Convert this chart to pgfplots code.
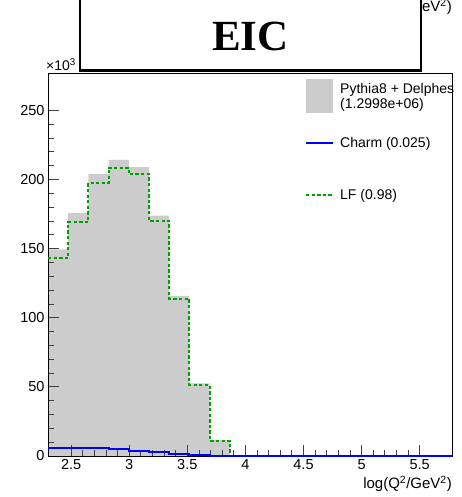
\documentclass[border=0pt]{standalone}
\usepackage{pgfplots}
\pgfplotsset{compat=1.18}
\usepackage{fontspec}
\setmainfont{Liberation Sans}
\newfontfamily\serifbf{Liberation Serif}
\definecolor{histgray}{RGB}{204,204,204}
\definecolor{lfgreen}{RGB}{0,160,0}
\begin{document}
\begin{tikzpicture}[x=1pt,y=1pt]
\begin{axis}[
 at={(48pt,41pt)}, anchor=south west,
 width=404pt, height=383pt, scale only axis,
 set layers, clip=false,
 xmin=2.30103, xmax=5.77815, ymin=0, ymax=277,
 xtick={2.5,3,3.5,4,4.5,5,5.5}, ytick={0,50,100,150,200,250},
 minor x tick num=4, minor y tick num=4,
 tick align=inside, tick pos=left,
 major tick length=11pt, minor tick length=5.5pt,
 axis line style={line width=0.9pt},
 every tick/.style={line width=0.8pt, black!75},
 /pgf/number format/assume math mode=true,
 ticklabel style={font=\fontsize{14.5}{14.5}\selectfont},
]
\addplot[fill=histgray, draw=none, const plot mark left, on layer=axis background] coordinates {
(2.30103,149.5) (2.47489,175.6) (2.64874,203.8) (2.82260,214.2) (2.99645,208.9)
(3.17031,173.9) (3.34416,115.8) (3.51802,52.5) (3.69188,11.5) (3.86573,0)
(4.03959,0) (5.77815,0)} \closedcycle;
\addplot[lfgreen, line width=2pt, dash pattern=on 3.3pt off 2.3pt, const plot mark left] coordinates {
(2.30103,143.0) (2.47489,169.0) (2.64874,197.3) (2.82260,208.6) (2.99645,203.8)
(3.17031,170.0) (3.34416,113.8) (3.51802,51.4) (3.69188,10.9) (3.86573,0)
(4.03959,0) (4.21344,0) (4.38730,0) (4.56115,0) (4.73501,0) (4.90886,0)
(5.08272,0) (5.25658,0) (5.43043,0) (5.60429,0) (5.77815,0)};
\addplot[blue, line width=2pt, const plot mark left] coordinates {
(2.30103,6.0) (2.47489,6.0) (2.64874,6.0) (2.82260,5.0) (2.99645,3.8)
(3.17031,2.7) (3.34416,1.4) (3.51802,0.6) (3.69188,0.2) (3.86573,0)
(4.03959,0) (4.21344,0) (4.38730,0) (4.56115,0) (4.73501,0) (4.90886,0)
(5.08272,0) (5.25658,0) (5.43043,0) (5.60429,0) (5.77815,0)};
\end{axis}
% right and top frame
\draw[line width=0.9pt] (48,424) -- (452,424) -- (452,41);
% axis title
\node[anchor=base east, font=\fontsize{15}{15}\selectfont, inner sep=0pt] at (452,8.7) {log(Q\textsuperscript{2}/GeV\textsuperscript{2})};
% multiplier
\node[anchor=base west, font=\fontsize{14}{14}\selectfont, inner sep=0pt] at (46,426) {×10\textsuperscript{3}};
% hidden histogram title
\node[anchor=base east, font=\fontsize{15}{15}\selectfont, inner sep=0pt] at (452,485.3) {log(Q\textsuperscript{2}/GeV\textsuperscript{2})};
% legend
\fill[histgray] (306,384) rectangle (333,418);
\node[anchor=base west, font=\fontsize{14}{14}\selectfont, inner sep=0pt] at (340,403.7) {Pythia8 + Delphes};
\node[anchor=base west, font=\fontsize{14}{14}\selectfont, inner sep=0pt] at (340,388) {(1.2998e+06)};
\draw[blue, line width=2pt] (306,353.7) -- (333,353.7);
\node[anchor=base west, font=\fontsize{14}{14}\selectfont, inner sep=0pt] at (340,349.3) {Charm (0.025)};
\draw[lfgreen, line width=2pt, dash pattern=on 3.3pt off 2.3pt] (306,302) -- (333,302);
\node[anchor=base west, font=\fontsize{14}{14}\selectfont, inner sep=0pt] at (340,297.7) {LF (0.98)};
% EIC box
\draw[line width=2.7pt, fill=white] (80,426.5) rectangle (421,520);
\node[anchor=base, font=\fontsize{43}{43}\serifbf\bfseries, inner sep=0pt] at (250.5,446.3) {EIC};
\pgfresetboundingbox
\useasboundingbox (0,0) rectangle (461,497);
\end{tikzpicture}
\end{document}
